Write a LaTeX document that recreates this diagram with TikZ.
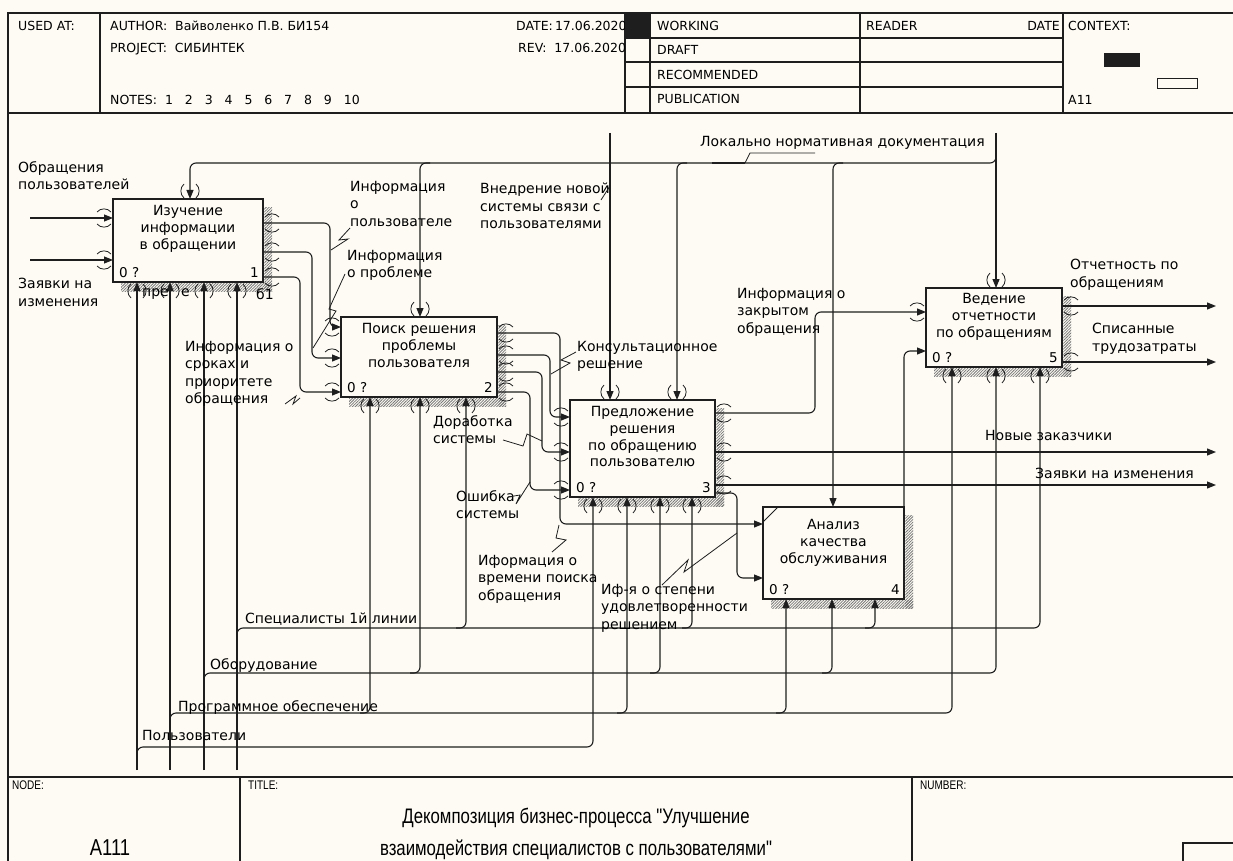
\documentclass[tikz,border=0pt]{standalone}
\usepackage{fontspec}
\setmainfont{DejaVu Sans}
\newfontfamily\narrowfont{Liberation Sans}
\usetikzlibrary{arrows.meta,positioning,calc,patterns.meta}
\definecolor{paper}{RGB}{253,251,244}
\definecolor{ink}{RGB}{30,30,30}
\newcommand{\nrw}[1]{\scalebox{0.8}[1]{#1}}

\tikzset{
  proc/.style={draw=ink,line width=2.6pt,fill=paper,inner sep=0pt,outer sep=0pt},
  boxtxt/.style={align=center,inner sep=0pt,font=\fontsize{14}{16.8}\selectfont},
  lbl/.style={align=left,inner sep=0pt,anchor=north west,font=\fontsize{14}{17.5}\selectfont},
  hdr/.style={inner sep=0pt,anchor=base west,font=\fontsize{12.5}{14}\selectfont},
  num/.style={inner sep=0pt,font=\fontsize{13.5}{14}\selectfont},
  small/.style={inner sep=0pt,anchor=north west,font=\narrowfont\fontsize{12.5}{13}\selectfont},
  arr/.style={draw=ink,line width=1.1pt,rounded corners=6pt,-{Triangle[length=9pt,width=7pt]}},
  leader/.style={draw=ink,line width=0.8pt},
  frame/.style={draw=ink,line width=1.4pt},
  hatch/.style={pattern={Lines[angle=45,distance=2pt,line width=0.8pt]},pattern color=ink!60},
  tun/.pic={\draw[ink,line width=0.8pt] (-6,-7) to[bend right=50] (-6,7) (6,-7) to[bend left=50] (6,7);},
}

\begin{document}
\begin{tikzpicture}[x=1pt,y=-1pt]
\useasboundingbox (0,0) rectangle (1233,861);
\fill[paper] (0,0) rectangle (1233,861);

% frame and header
\draw[frame] (8,870) -- (8,13) -- (1240,13);
\draw[frame] (8,113) -- (1240,113);
\foreach \x in {100,625,650,860,1063} \draw[frame] (\x,13) -- (\x,113);
\foreach \y in {38,62,87} \draw[frame] (625,\y) -- (1063,\y);
\node[hdr] (usedat) at (18,31) {USED AT:};
\begin{scope}
  \clip (100,13) rectangle (625,113);
  \node[hdr] (author) at (110,31) {AUTHOR:\ \ Вайволенко П.В. БИ154};
  \node[hdr] (project) at (110,53) {PROJECT:\ \ СИБИНТЕК};
  \node[hdr] (notes) at (110,105) {NOTES:\ \ 1\ \ \ 2\ \ \ 3\ \ \ 4\ \ \ 5\ \ \ 6\ \ \ 7\ \ \ 8\ \ \ 9\ \ \ 10};
  \node[hdr] (date) at (516,31) {DATE:\,17.06.2020};
  \node[hdr] (rev) at (518,53) {REV:\ \ 17.06.2020};
\end{scope}
\fill[ink] (625,13) rectangle (650,38);
\node[hdr] (working) at (657,30.5) {WORKING};
\node[hdr] (draft) at (657,54.5) {DRAFT};
\node[hdr] (recom) at (657,79.5) {RECOMMENDED};
\node[hdr] (publ) at (657,104) {PUBLICATION};
\node[hdr] (reader) at (866,30.5) {READER};
\node[hdr,anchor=base east] (rdate) at (1060,30.5) {DATE};
\node[hdr] (context) at (1068,30.5) {CONTEXT:};
\node[hdr] (ctxnode) at (1068,105) {A11};
\fill[ink] (1104,53) rectangle (1140,67);
\draw[ink,line width=1pt] (1157,79) rectangle (1197,89);

% footer
\draw[frame] (8,777) -- (1240,777);
\draw[frame] (240,777) -- (240,870);
\draw[frame] (912,777) -- (912,870);
\draw[frame] (1183,843) rectangle (1250,880);
\node[small] (nodelbl) at (12,781) {\nrw{NODE:}};
\node[small] (titlelbl) at (248,781) {\nrw{TITLE:}};
\node[small] (numlbl) at (920,781) {\nrw{NUMBER:}};
\node[inner sep=0pt,font=\narrowfont\fontsize{23}{24}\selectfont] (nodeval) at (110,848) {\nrw{A111}};
\node[inner sep=0pt,align=center,font=\narrowfont\fontsize{21}{32}\selectfont] (title) at (576,834)
  {\nrw{Декомпозиция бизнес-процесса "Улучшение}\\\nrw{взаимодействия специалистов с пользователями"}};

% activity boxes
\node[proc,minimum width=150pt,minimum height=83pt] (b1) at (188,240.5) {};
\node[proc,minimum width=156pt,minimum height=80pt] (b2) at (419,357) {};
\node[proc,minimum width=145pt,minimum height=97pt] (b3) at (642.5,448.5) {};
\node[proc,minimum width=141pt,minimum height=92pt] (b4) at (833.5,553) {};
\node[proc,minimum width=136pt,minimum height=79pt] (b5) at (994,327.5) {};
\foreach \b in {b1,b2,b3,b4,b5} {
  \path[hatch] ($(\b.north east)+(1.3,8)$) rectangle ($(\b.south east)+(9,9)$);
  \path[hatch] ($(\b.south west)+(8,1.3)$) rectangle ($(\b.south east)+(9,9)$);
}
\draw[ink,line width=1pt] ($(b4.north west)+(0,15)$) -- ($(b4.north west)+(15,0)$);

\node[boxtxt,below=6pt of b1.north] (b1t) {Изучение\\информации\\в обращении};
\node[boxtxt,below=6pt of b2.north] (b2t) {Поиск решения\\проблемы\\пользователя};
\node[boxtxt,below=6pt of b3.north] (b3t) {Предложение\\решения\\по обращению\\пользователю};
\node[boxtxt,below=12pt of b4.north] (b4t) {Анализ\\качества\\обслуживания};
\node[boxtxt,below=5pt of b5.north] (b5t) {Ведение\\отчетности\\по обращениям};
\foreach \b/\n in {b1/1,b2/2,b3/3,b4/4,b5/5} {
  \node[num,anchor=south west] (\b z) at ($(\b.south west)+(6,-4)$) {0 ?};
  \node[num,anchor=south east] (\b n) at ($(\b.south east)+(-4,-4)$) {\n};
}

% ports
\coordinate (b1i1) at ($(b1.north west)+(0,19)$);
\coordinate (b1i2) at ($(b1.north west)+(0,61)$);
\coordinate (b1c)  at ($(b1.north west)+(77,0)$);
\coordinate (b1o1) at ($(b1.north east)+(0,24)$);
\coordinate (b1o2) at ($(b1.north east)+(0,53)$);
\coordinate (b1o3) at ($(b1.north east)+(0,78)$);
\coordinate (b1m1) at ($(b1.south west)+(24,0)$);
\coordinate (b1m2) at ($(b1.south west)+(57,0)$);
\coordinate (b1m3) at ($(b1.south west)+(91,0)$);
\coordinate (b1m4) at ($(b1.south west)+(124,0)$);
\coordinate (b2i1) at ($(b2.north west)+(0,10)$);
\coordinate (b2i2) at ($(b2.north west)+(0,41)$);
\coordinate (b2i3) at ($(b2.north west)+(0,75)$);
\coordinate (b2c)  at ($(b2.north west)+(79,0)$);
\coordinate (b2o1) at ($(b2.north east)+(0,16)$);
\coordinate (b2o2) at ($(b2.north east)+(0,38)$);
\coordinate (b2o3) at ($(b2.north east)+(0,55)$);
\coordinate (b2o4) at ($(b2.north east)+(0,75)$);
\coordinate (b2m1) at ($(b2.south west)+(29,0)$);
\coordinate (b2m2) at ($(b2.south west)+(79,0)$);
\coordinate (b2m3) at ($(b2.south west)+(125,0)$);
\coordinate (b3i1) at ($(b3.north west)+(0,17)$);
\coordinate (b3i2) at ($(b3.north west)+(0,52)$);
\coordinate (b3i3) at ($(b3.north west)+(0,90)$);
\coordinate (b3c1) at ($(b3.north west)+(40,0)$);
\coordinate (b3c2) at ($(b3.north west)+(107,0)$);
\coordinate (b3o1) at ($(b3.north east)+(0,13)$);
\coordinate (b3o2) at ($(b3.north east)+(0,52)$);
\coordinate (b3o3) at ($(b3.north east)+(0,85)$);
\coordinate (b3o4) at ($(b3.north east)+(0,93)$);
\coordinate (b3m1) at ($(b3.south west)+(23,0)$);
\coordinate (b3m2) at ($(b3.south west)+(57,0)$);
\coordinate (b3m3) at ($(b3.south west)+(90,0)$);
\coordinate (b3m4) at ($(b3.south west)+(122,0)$);
\coordinate (b4i1) at ($(b4.north west)+(0,17)$);
\coordinate (b4i2) at ($(b4.north west)+(0,71)$);
\coordinate (b4c)  at ($(b4.north west)+(70,0)$);
\coordinate (b4m1) at ($(b4.south west)+(23,0)$);
\coordinate (b4m2) at ($(b4.south west)+(69,0)$);
\coordinate (b4m3) at ($(b4.south west)+(112,0)$);
\coordinate (b5i1) at ($(b5.north west)+(0,24)$);
\coordinate (b5i2) at ($(b5.north west)+(0,63)$);
\coordinate (b5c)  at ($(b5.north west)+(70,0)$);
\coordinate (b5o1) at ($(b5.north east)+(0,18)$);
\coordinate (b5o2) at ($(b5.north east)+(0,74)$);
\coordinate (b5m1) at ($(b5.south west)+(26,0)$);
\coordinate (b5m2) at ($(b5.south west)+(70,0)$);
\coordinate (b5m3) at ($(b5.south west)+(114,0)$);

% free ends
\coordinate (obr) at (30,218);
\coordinate (zayv) at (30,260);
\coordinate (ldtop) at (996,133);
\coordinate (ldsplit) at (996,150);
\coordinate (ldl) at (190,163);
\coordinate (vntop) at (610,133);
\coordinate (usr) at (137,770);
\coordinate (po) at (170,770);
\coordinate (eq) at (204,770);
\coordinate (spec) at (237,770);
\coordinate (usrl) at (137,747);
\coordinate (pol) at (170,713);
\coordinate (eql) at (204,673);
\coordinate (specl) at (237,628);
\coordinate (otch) at (1216,306);
\coordinate (spis) at (1216,362);
\coordinate (novz) at (1216,452);
\coordinate (zout) at (1216,485);

% inputs and controls
\draw[arr] (obr) -- (b1i1);
\draw[arr] (zayv) -- (b1i2);
\draw[arr] (ldtop) -- (b5c);
\draw[arr] (ldsplit) |- (ldl) -- (b1c);
\foreach \p in {b2c,b3c2,b4c}
  \draw[arr] ($(\p |- ldl)+(10,0)$) -| (\p);
\draw[arr] (vntop) -- (b3c1);

% mechanisms
\draw[arr] (usr) -- (b1m1);
\draw[arr] (po) -- (b1m2);
\draw[arr] (eq) -- (b1m3);
\draw[arr] (spec) -- (b1m4);
\draw[arr] ($(usrl)+(0,12)$) -- (usrl) -| (b3m1);
\draw[arr] ($(pol)+(0,12)$) -- (pol) -| (b5m1);
\draw[arr] ($(eql)+(0,12)$) -- (eql) -| (b5m2);
\draw[arr] ($(specl)+(0,12)$) -- (specl) -| (b5m3);
\foreach \p in {b2m1,b3m2,b4m1}
  \draw[arr] ($(\p |- pol)+(-10,0)$) -| (\p);
\foreach \p in {b2m2,b3m3,b4m2}
  \draw[arr] ($(\p |- eql)+(-10,0)$) -| (\p);
\foreach \p in {b2m3,b3m4,b4m3}
  \draw[arr] ($(\p |- specl)+(-10,0)$) -| (\p);

% flows between boxes
\draw[arr] (b1o1) -| ($(b2i1)+(-11,0)$) -- (b2i1);
\draw[arr] (b1o2) -| ($(b2i2)+(-29,0)$) -- (b2i2);
\draw[arr] (b1o3) -| ($(b2i3)+(-41,0)$) -- (b2i3);
\draw[arr] (b2o1) -| ($(b4i1)+(-203,0)$) -- (b4i1);
\draw[arr] (b2o2) -| ($(b3i1)+(-20,0)$) -- (b3i1);
\draw[arr] (b2o3) -| ($(b3i2)+(-28,0)$) -- (b3i2);
\draw[arr] (b2o4) -| ($(b3i3)+(-40,0)$) -- (b3i3);
\draw[arr] (b3o1) -| ($(b5i1)+(-111,0)$) -- (b5i1);
\draw[arr] (b3o2) -- (novz);
\draw[arr] (b3o3) -- (zout);
\draw[arr] (b3o4) -| ($(b4i2)+(-26,0)$) -- (b4i2);
\draw[arr] (b4.north east) |- (b5i2);
\draw[arr] (b5o1) -- (otch);
\draw[arr] (b5o2) -- (spis);

% tunnel marks
\foreach \p in {b1c,b2c,b3c1,b3c2,b5c} \pic at ($(\p)+(0,-8)$) {tun};
\foreach \p in {b1m1,b1m2,b1m3,b1m4,b2m1,b2m2,b2m3,b3m1,b3m2,b3m3,b3m4,b5m1,b5m2,b5m3}
  \pic at ($(\p)+(0,9)$) {tun};
\foreach \p in {b1i1,b1i2,b2i1,b2i2,b2i3,b3i1,b3i2,b3i3,b5i1}
  \pic[rotate=90] at ($(\p)+(-9,0)$) {tun};
\foreach \p in {b1o1,b1o2,b1o3,b2o1,b2o2,b2o3,b2o4,b3o1,b3o2,b3o3,b5o1,b5o2}
  \pic[rotate=90] at ($(\p)+(9,0)$) {tun};

% labels
\node[lbl] (obrl) at (18,161) {Обращения\\пользователей};
\node[lbl] (zayvl) at (18,278) {Заявки на\\изменения};
\node[lbl] (ipol) at (350,181) {Информация\\о\\пользователе};
\node[lbl] (iprob) at (347,250) {Информация\\о проблеме};
\node[lbl] (isrok) at (185,341) {Информация о\\сроках и\\приоритете\\обращения};
\node[lbl] (vnedr) at (480,183) {Внедрение новой\\системы связи с\\пользователями};
\node[lbl] (lnd) at (700,136) {Локально нормативная документация};
\node[lbl] (konsl) at (577,341) {Консультационное\\решение};
\node[lbl] (dorab) at (433,415) {Доработка\\системы};
\node[lbl] (oshib) at (456,490) {Ошибка\\системы};
\node[lbl] (ivrem) at (478,555) {Иформация о\\времени поиска\\обращения};
\node[lbl] (iudov) at (601,584) {Иф-я о степени\\удовлетворенности\\решением};
\node[lbl] (izakr) at (737,288) {Информация о\\закрытом\\обращения};
\node[lbl] (otchl) at (1070,259) {Отчетность по\\обращениям};
\node[lbl] (spisl) at (1092,323) {Списанные\\трудозатраты};
\node[lbl] (novzl) at (985,430) {Новые заказчики};
\node[lbl] (zoutl) at (1035,468) {Заявки на изменения};
\node[lbl] (specll) at (245,613) {Специалисты 1й линии};
\node[lbl] (eqll) at (210,658) {Оборудование};
\node[lbl] (poll) at (178,700) {Программное обеспечение};
\node[lbl] (usrll) at (142,730) {Пользователи};
\node[lbl] (hid1) at (142,288) {пре};
\node[lbl] (hid2) at (181,288) {е};
\node[lbl] (hid3) at (256,288) {б1};

% leaders
\draw[leader] (815,153) -- (750,153) -- (745,163);
\draw[ink,line width=2.2pt] (712,163) -- (745,163);
\draw[leader] (601,200) -- (610,186);
\draw[leader] (350,228) -- (339,240) -- (348,239) -- (331,250);
\draw[leader] (345,274) -- (329,309) -- (336,311) -- (313,348);
\draw[leader] (285,404) -- (296,396) -- (293,404) -- (300,398);
\draw[leader] (576,352) -- (561,360) -- (570,363) -- (551,374);
\draw[leader] (503,440) -- (523,446) -- (527,434) -- (542,441);
\draw[leader] (508,497) -- (520,495) -- (516,504) -- (530,482);
\draw[leader] (552,552) -- (566,540) -- (556,538) -- (559,525);
\draw[leader] (662,585) -- (688,560) -- (684,572) -- (737,533);
\end{tikzpicture}
\end{document}
